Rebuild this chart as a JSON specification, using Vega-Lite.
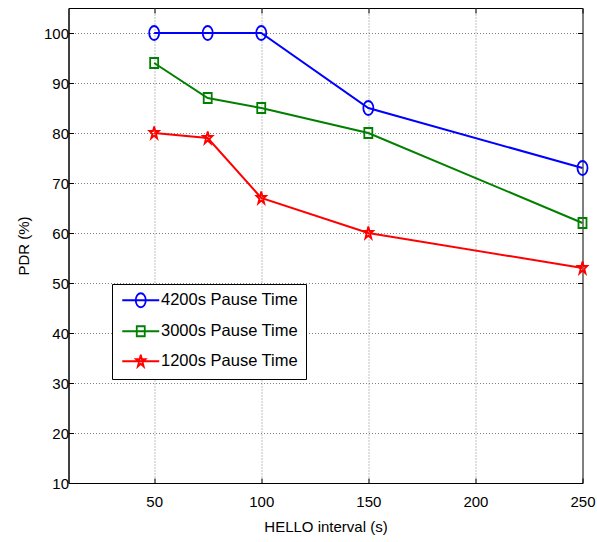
{
  "$schema": "https://vega.github.io/schema/vega-lite/v6.json",
  "width": 514,
  "height": 475,
  "autosize": {"type": "none"},
  "padding": {"left": 68.5, "top": 8, "right": 14.5, "bottom": 59},
  "background": "white",
  "config": {
    "view": {"stroke": "black", "strokeWidth": 1},
    "font": "Liberation Sans",
    "axis": {
      "labelFont": "Liberation Sans",
      "titleFont": "Liberation Sans",
      "labelFontSize": 15,
      "titleFontSize": 15,
      "titleFontWeight": "normal",
      "labelColor": "black",
      "titleColor": "black",
      "domainColor": "black",
      "tickColor": "black",
      "gridColor": "#808080",
      "gridDash": [1, 2],
      "gridOpacity": 1,
      "gridWidth": 1
    },
    "legend": {
      "labelFont": "Liberation Sans",
      "labelFontSize": 16.5,
      "labelColor": "black"
    }
  },
  "data": {
    "values": [
      {"interval": 50, "pdr": 100, "series": "4200s Pause Time"},
      {"interval": 75, "pdr": 100, "series": "4200s Pause Time"},
      {"interval": 100, "pdr": 100, "series": "4200s Pause Time"},
      {"interval": 150, "pdr": 85, "series": "4200s Pause Time"},
      {"interval": 250, "pdr": 73, "series": "4200s Pause Time"},
      {"interval": 50, "pdr": 94, "series": "3000s Pause Time"},
      {"interval": 75, "pdr": 87, "series": "3000s Pause Time"},
      {"interval": 100, "pdr": 85, "series": "3000s Pause Time"},
      {"interval": 150, "pdr": 80, "series": "3000s Pause Time"},
      {"interval": 250, "pdr": 62, "series": "3000s Pause Time"},
      {"interval": 50, "pdr": 80, "series": "1200s Pause Time"},
      {"interval": 75, "pdr": 79, "series": "1200s Pause Time"},
      {"interval": 100, "pdr": 67, "series": "1200s Pause Time"},
      {"interval": 150, "pdr": 60, "series": "1200s Pause Time"},
      {"interval": 250, "pdr": 53, "series": "1200s Pause Time"}
    ]
  },
  "encoding": {
    "x": {
      "field": "interval", "type": "quantitative",
      "scale": {"domain": [10, 250], "nice": false, "zero": false},
      "axis": null
    },
    "y": {
      "field": "pdr", "type": "quantitative",
      "scale": {"domain": [10, 105], "nice": false, "zero": false},
      "axis": null
    },
    "color": {
      "field": "series", "type": "nominal",
      "scale": {"domain": ["4200s Pause Time", "3000s Pause Time", "1200s Pause Time"], "range": ["#0000ff", "#008000", "#ff0000"]},
      "legend": {
        "orient": "none", "legendX": 43.5, "legendY": 276,
        "title": null, "padding": 8,
        "strokeColor": "black", "fillColor": "white",
        "symbolSize": 100, "symbolStrokeWidth": 1.8,
        "symbolOffset": 12.5, "labelOffset": 12, "rowPadding": 11,
        "symbolType": "M-3.7,0L3.7,0M1,0A1,1.4,0,1,1,-1,0A1,1.4,0,1,1,1,0",
        "encode": {
          "symbols": {
            "update": {
              "shape": {"signal": "datum.value === '4200s Pause Time' ? 'M-3.7,0L3.7,0M1,0A1,1.4,0,1,1,-1,0A1,1.4,0,1,1,1,0' : datum.value === '3000s Pause Time' ? 'M-3.7,0L3.7,0M-0.8,-1L0.8,-1L0.8,1L-0.8,1Z' : 'M-3.7,0L3.7,0M0,-1.3L0.225,-0.402L0.951,-0.402L0.363,0.153L0.588,1.052L0,0.497L-0.588,1.052L-0.363,0.153L-0.951,-0.402L-0.225,-0.402Z'"},
              "fill": {"value": "transparent"}
            }
          }
        }
      }
    }
  },
  "layer": [
    {
      "mark": {"type": "line", "strokeWidth": 2},
      "encoding": {
        "x": {
          "field": "interval", "type": "quantitative",
          "axis": {"orient": "bottom", "values": [50, 100, 150, 200, 250], "title": "HELLO interval (s)", "grid": true, "tickSize": -5, "labelPadding": 16.5, "titlePadding": 10, "labelFlush": false}
        },
        "y": {
          "field": "pdr", "type": "quantitative",
          "axis": {"orient": "left", "values": [10, 20, 30, 40, 50, 60, 70, 80, 90, 100], "title": "PDR (%)", "grid": true, "tickSize": -5, "labelPadding": 5, "titlePadding": 12, "labelFlush": false}
        }
      }
    },
    {
      "transform": [{"filter": "datum.series === '4200s Pause Time'"}],
      "mark": {"type": "point", "filled": false, "strokeWidth": 1.8, "size": 100, "opacity": 1, "shape": "M1,0A1,1.4,0,1,1,-1,0A1,1.4,0,1,1,1,0"},
      "encoding": {
        "x": {
          "field": "interval", "type": "quantitative",
          "axis": {"orient": "top", "values": [50, 100, 150, 200, 250], "title": null, "labels": false, "grid": false, "tickSize": -5, "domain": false}
        },
        "y": {
          "field": "pdr", "type": "quantitative",
          "axis": {"orient": "right", "values": [10, 20, 30, 40, 50, 60, 70, 80, 90, 100], "title": null, "labels": false, "grid": false, "tickSize": -5, "domain": false}
        }
      }
    },
    {
      "transform": [{"filter": "datum.series === '3000s Pause Time'"}],
      "mark": {"type": "point", "filled": false, "strokeWidth": 1.8, "size": 100, "opacity": 1, "shape": "M-0.8,-1L0.8,-1L0.8,1L-0.8,1Z"}
    },
    {
      "transform": [{"filter": "datum.series === '1200s Pause Time'"}],
      "mark": {"type": "point", "filled": false, "strokeWidth": 1.8, "size": 100, "opacity": 1, "shape": "M0,-1.3L0.225,-0.402L0.951,-0.402L0.363,0.153L0.588,1.052L0,0.497L-0.588,1.052L-0.363,0.153L-0.951,-0.402L-0.225,-0.402Z"}
    }
  ]
}
